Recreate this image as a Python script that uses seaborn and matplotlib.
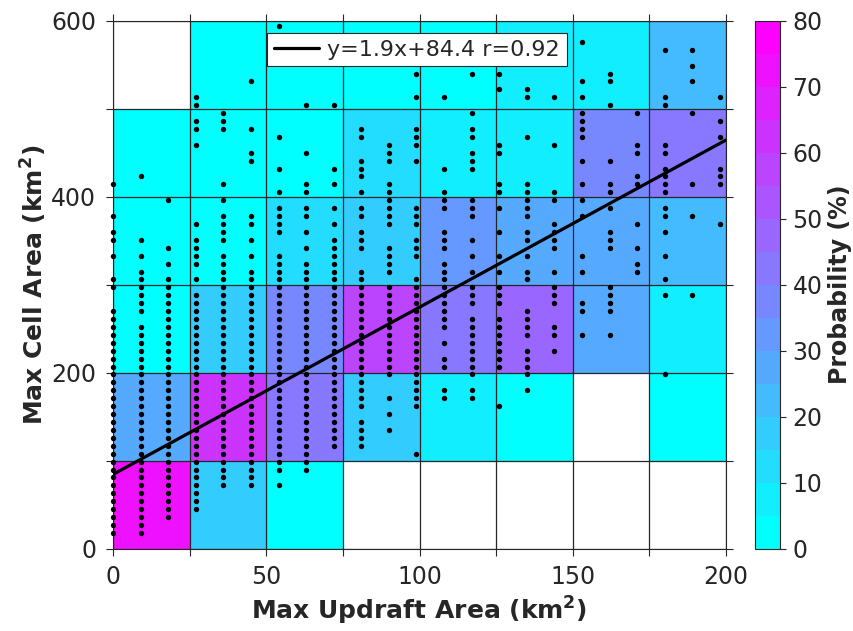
import numpy as np
import pandas as pd
import matplotlib
matplotlib.use("Agg")
import matplotlib.pyplot as plt
import seaborn as sns

# ---------------------------------------------------------------------------
# Probability grid: bin edges and probability (%) per bin.
# One list per cell-area band (bottom to top), one value per updraft band.
# None marks bins without any samples.
# ---------------------------------------------------------------------------
updraft_edges = [0, 25, 50, 75, 100, 125, 150, 175, 200]
cell_edges = [0, 100, 200, 300, 400, 500, 600]

prob_0_100 = [72, 17, 2, None, None, None, None, None]
prob_100_200 = [27, 62, 42, 17, 7, 2, None, 2]
prob_200_300 = [2, 17, 37, 57, 42, 47, 27, 7]
prob_300_400 = [2, 2, 12, 17, 32, 27, 27, 22]
prob_400_500 = [2, 2, 2, 12, 7, 7, 37, 42]
prob_500_600 = [None, 2, 2, 2, 2, 7, 7, 22]

# ---------------------------------------------------------------------------
# Individual storm samples: max cell area (km^2) observed for each
# max updraft area (km^2) value.
# ---------------------------------------------------------------------------
cells_at_0 = [18, 27, 36, 45, 54, 63, 72, 81, 90, 99, 108, 117, 126, 135, 144,
              153, 162, 171, 180, 189, 198, 207, 216, 225, 234, 243, 252, 261,
              270, 297, 306, 333, 351, 360, 378, 414]
cells_at_9 = [18, 27, 36, 45, 54, 63, 72, 81, 90, 99, 108, 117, 126, 135, 144,
              153, 162, 171, 180, 189, 198, 207, 216, 225, 234, 243, 252, 270,
              279, 288, 297, 306, 315, 333, 351, 423]
cells_at_18 = [36, 45, 54, 63, 72, 81, 90, 99, 108, 117, 126, 135, 144, 153,
               162, 171, 180, 189, 198, 207, 216, 225, 234, 243, 252, 261, 270,
               279, 288, 297, 306, 324, 342, 396]
cells_at_27 = [45, 54, 63, 72, 81, 90, 99, 108, 117, 126, 135, 144, 153, 162,
               171, 180, 189, 198, 207, 216, 225, 234, 243, 252, 261, 270, 279,
               288, 306, 324, 333, 342, 351, 369, 459, 477, 486, 504, 513]
cells_at_36 = [72, 81, 90, 99, 108, 117, 126, 135, 144, 153, 162, 171, 180,
               189, 198, 207, 216, 225, 234, 243, 252, 261, 270, 279, 288, 297,
               306, 315, 324, 333, 351, 360, 369, 378, 396, 414, 477, 486, 495]
cells_at_45 = [72, 81, 90, 99, 108, 117, 126, 135, 144, 153, 162, 171, 180,
               189, 198, 207, 216, 225, 234, 243, 252, 261, 270, 279, 288, 297,
               306, 315, 333, 351, 369, 378, 441, 450, 477, 531]
cells_at_54 = [72, 90, 99, 108, 117, 126, 135, 144, 153, 162, 171, 180, 189,
               198, 207, 216, 225, 234, 243, 252, 261, 270, 279, 288, 297, 306,
               315, 324, 333, 360, 369, 378, 387, 405, 432, 468, 594]
cells_at_63 = [90, 99, 108, 117, 126, 135, 144, 153, 162, 171, 180, 189, 198,
               207, 216, 225, 234, 243, 252, 261, 270, 279, 288, 297, 306, 315,
               324, 342, 360, 378, 387, 405, 414, 450, 504]
cells_at_72 = [117, 126, 135, 144, 153, 162, 171, 180, 189, 198, 207, 216, 225,
               234, 243, 252, 261, 270, 279, 288, 297, 306, 315, 324, 333, 342,
               351, 369, 387, 414, 432, 504]
cells_at_81 = [117, 126, 135, 144, 162, 171, 180, 189, 198, 207, 216, 225, 234,
               243, 252, 261, 270, 279, 288, 297, 306, 315, 342, 351, 360, 378,
               387, 405, 423, 432, 441, 468, 477]
cells_at_90 = [135, 153, 171, 198, 207, 216, 225, 234, 243, 252, 261, 270, 279,
               288, 297, 315, 324, 333, 342, 369, 378, 387, 396, 405, 414, 441,
               450, 459]
cells_at_99 = [108, 162, 171, 180, 189, 198, 207, 216, 225, 234, 243, 252, 261,
               270, 279, 288, 297, 306, 333, 342, 351, 369, 378, 387, 441, 459,
               468, 477, 513, 540]
cells_at_108 = [171, 180, 207, 216, 234, 252, 261, 270, 279, 288, 297, 306,
                315, 324, 342, 351, 360, 387, 396, 405, 432, 513]
cells_at_117 = [171, 180, 198, 207, 216, 225, 234, 243, 252, 261, 279, 288,
                297, 315, 333, 351, 378, 387, 396, 432, 441, 450, 468, 477, 495,
                540]
cells_at_126 = [162, 207, 216, 225, 234, 243, 252, 261, 279, 288, 297, 315,
                333, 360, 387, 405, 414, 450, 459, 522, 540]
cells_at_135 = [180, 198, 207, 216, 225, 243, 252, 261, 270, 306, 315, 333,
                351, 360, 378, 387, 396, 405, 414, 468, 513, 522]
cells_at_144 = [225, 243, 252, 279, 288, 297, 315, 342, 351, 360, 369, 396,
                405, 459, 513]
cells_at_153 = [243, 270, 279, 315, 333, 378, 396, 414, 441, 468, 477, 486,
                495, 513, 531, 576]
cells_at_162 = [243, 270, 279, 288, 297, 342, 351, 360, 387, 405, 414, 441,
                504, 531, 540]
cells_at_171 = [315, 324, 342, 369, 414, 423, 450, 459, 495]
cells_at_180 = [198, 288, 306, 333, 360, 378, 387, 405, 414, 423, 432, 450,
                459, 504, 513, 567]
cells_at_189 = [288, 378, 414, 495, 531, 549, 567]
cells_at_198 = [369, 414, 423, 432, 468, 486, 513]

updraft_values = [0, 9, 18, 27, 36, 45, 54, 63, 72, 81, 90, 99, 108, 117, 126,
                  135, 144, 153, 162, 171, 180, 189, 198]
cell_columns = [cells_at_0, cells_at_9, cells_at_18, cells_at_27, cells_at_36,
                cells_at_45, cells_at_54, cells_at_63, cells_at_72, cells_at_81,
                cells_at_90, cells_at_99, cells_at_108, cells_at_117,
                cells_at_126, cells_at_135, cells_at_144, cells_at_153,
                cells_at_162, cells_at_171, cells_at_180, cells_at_189,
                cells_at_198]

# Linear fit reported in the legend
fit_slope = 1.9
fit_intercept = 84.4
fit_r = 0.92

x_ticks = [0, 25, 50, 75, 100, 125, 150, 175, 200]
x_tick_labels = ["0", "", "50", "", "100", "", "150", "", "200"]
y_ticks = [0, 100, 200, 300, 400, 500, 600]
y_tick_labels = ["0", "", "200", "", "400", "", "600"]
cbar_ticks = [0, 10, 20, 30, 40, 50, 60, 70, 80]

# ---------------------------------------------------------------------------
# Tidy tables
# ---------------------------------------------------------------------------
prob_rows = [prob_0_100, prob_100_200, prob_200_300,
             prob_300_400, prob_400_500, prob_500_600]
grid_records = []
for j, row in enumerate(prob_rows):
    for i, p in enumerate(row):
        if p is not None:
            grid_records.append((
                0.5 * (updraft_edges[i] + updraft_edges[i + 1]),
                0.5 * (cell_edges[j] + cell_edges[j + 1]),
                p,
            ))
grid = pd.DataFrame(grid_records, columns=["updraft", "cell", "prob"])

dots = pd.DataFrame(
    [(u, c) for u, col in zip(updraft_values, cell_columns) for c in col],
    columns=["updraft", "cell"],
)

# ---------------------------------------------------------------------------
# Figure
# ---------------------------------------------------------------------------
sns.set_style("ticks")
plt.rcParams["font.family"] = ["DejaVu Sans"]
plt.rcParams["mathtext.default"] = "regular"

dark = "#262626"
W, H = 854, 631
fig = plt.figure(figsize=(W / 100, H / 100), dpi=100)
ax = fig.add_axes([113 / W, 1 - 548.7 / H, 613 / W, 528 / H])
cax = fig.add_axes([755 / W, 1 - 548.7 / H, 25 / W, 528 / H])

cool16 = plt.get_cmap("cool", 16)

sns.histplot(
    data=grid, x="updraft", y="cell", weights="prob",
    bins=[updraft_edges, cell_edges], cmap=cool16, vmin=0, vmax=80,
    cbar=True, cbar_ax=cax, ax=ax,
)

sns.scatterplot(
    data=dots, x="updraft", y="cell", color="black", s=15, linewidth=0,
    ax=ax, zorder=3, clip_on=False, legend=False,
)

fit_x = np.array([updraft_edges[0], updraft_edges[-1]])
fit_y = fit_slope * fit_x + fit_intercept
sns.lineplot(
    x=fit_x, y=fit_y, color="black", linewidth=2.3, ax=ax, zorder=4,
    label=f"y={fit_slope}x+{fit_intercept} r={fit_r}",
)

ax.set_xlim(updraft_edges[0], updraft_edges[-1])
ax.set_ylim(cell_edges[0], cell_edges[-1])
ax.set_xticks(x_ticks)
ax.set_xticklabels(x_tick_labels)
ax.set_yticks(y_ticks)
ax.set_yticklabels(y_tick_labels)
ax.grid(True, color=dark, linewidth=0.9)
ax.set_axisbelow(False)
ax.tick_params(direction="out", length=5, width=0.8, colors=dark,
               labelsize=17, top=True, right=True, pad=7)
for s in ax.spines.values():
    s.set_visible(True)
    s.set_color(dark)
    s.set_linewidth(0.8)

ax.set_xlabel(r"Max Updraft Area (km$^{\mathbf{2}}$)", fontsize=18,
              fontweight="bold", color=dark, labelpad=4)
ax.set_ylabel(r"Max Cell Area (km$^{\mathbf{2}}$)", fontsize=18,
              fontweight="bold", color=dark, labelpad=1.5)

leg = ax.legend(loc="upper center", bbox_to_anchor=(0.496, 0.977),
                borderaxespad=0, fontsize=16, frameon=True, fancybox=False,
                framealpha=1.0, handlelength=2.0, handletextpad=0.4,
                borderpad=0.3)
leg.get_frame().set_edgecolor(dark)
leg.get_frame().set_facecolor("white")
leg.get_frame().set_linewidth(0.8)
leg.set_zorder(6)

cax.set_yticks(cbar_ticks)
cax.tick_params(direction="out", length=4, width=0.8, colors=dark,
                labelsize=17, pad=5)
cax.set_ylabel("Probability (%)", fontsize=17, fontweight="bold",
               color=dark, labelpad=4)
for s in cax.spines.values():
    s.set_color(dark)
    s.set_linewidth(0.8)

fig.savefig("out.png", dpi=100, facecolor="white")
